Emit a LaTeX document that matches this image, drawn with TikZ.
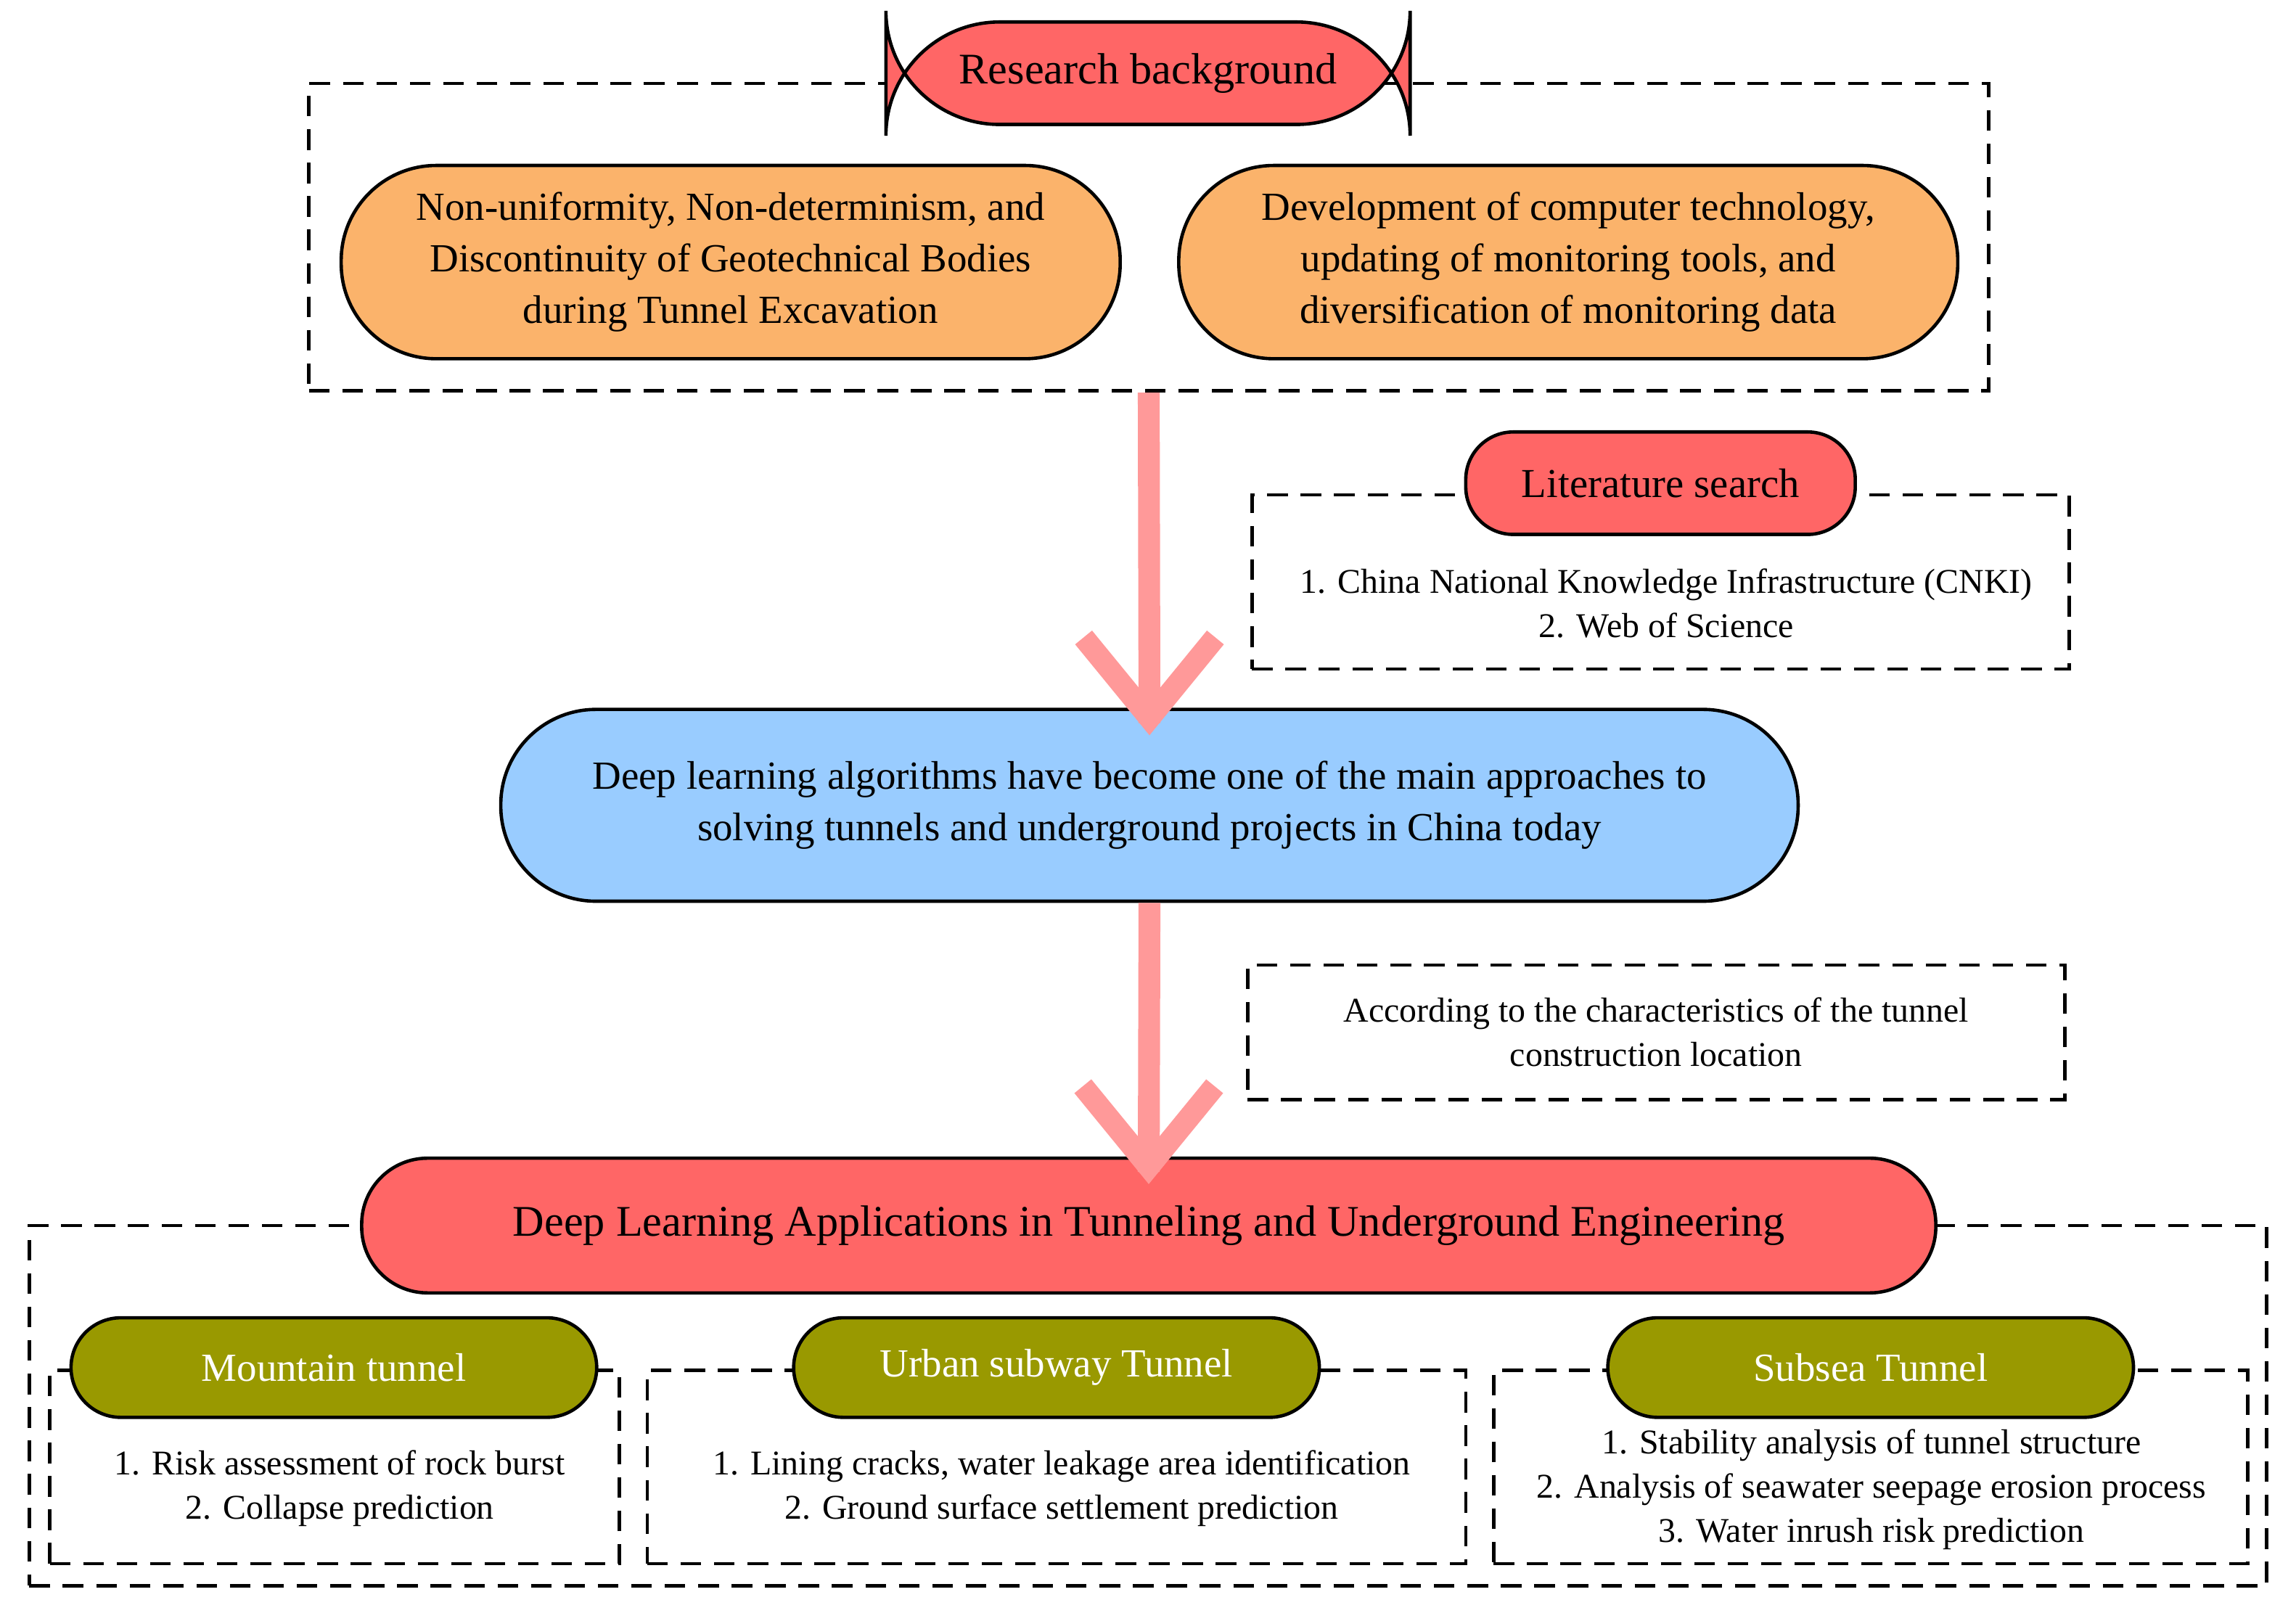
\documentclass[tikz,border=0pt]{standalone}
\usepackage{fontspec}
\setmainfont{Liberation Serif}
\begin{document}
\begin{tikzpicture}[x=0.02cm,y=-0.02cm,
 pill/.style={draw=black,line width=1.3pt,rounded corners=34\pgflinewidth,align=center,inner sep=0pt},
 dbox/.style={draw=black,line width=1.3pt,dash pattern=on 8pt off 5pt,inner sep=0pt},
 pk/.style={draw=pinkA,line width=8.5pt},
 t16/.style={font=\fontsize{15.5}{20}\selectfont,align=center},
 t14/.style={font=\fontsize{13.5}{17.2}\selectfont,align=center}]
\definecolor{redA}{HTML}{FF6666}
\definecolor{orA}{HTML}{FBB36B}
\definecolor{blA}{HTML}{99CCFF}
\definecolor{olA}{HTML}{999900}
\definecolor{pinkA}{HTML}{FF9999}
\useasboundingbox (0,0) rectangle (1568,1107);
% boxes
\node[dbox,minimum width=1147*0.02cm,minimum height=210*0.02cm] (box1) at (784.5,162) {};
\node[dbox,minimum width=558*0.02cm,minimum height=119*0.02cm] (box2) at (1134,397.5) {};
\node[dbox,minimum width=558*0.02cm,minimum height=92*0.02cm,t14] (box3) at (1131,705) {According to the characteristics of the tunnel\\construction location};
\node[dbox,minimum width=1528*0.02cm,minimum height=246*0.02cm] (box4) at (784,960) {};
\node[dbox,minimum width=389*0.02cm,minimum height=132*0.02cm] (b5) at (228.5,1002) {};
\node[dbox,minimum width=559*0.02cm,minimum height=132*0.02cm] (b6) at (721.5,1002) {};
\node[dbox,minimum width=515*0.02cm,minimum height=132*0.02cm] (b7) at (1277.5,1002) {};
% nodes
\node[pill,fill=redA,minimum width=358*0.02cm,minimum height=70*0.02cm,font=\fontsize{17}{20}\selectfont] (rb) at (784,50) {Research background};
\node[pill,fill=orA,minimum width=532*0.02cm,minimum height=132*0.02cm,t16,rounded corners=1.3cm] (o1) at (499,179) {Non-uniformity, Non-determinism, and\\Discontinuity of Geotechnical Bodies\\during Tunnel Excavation};
\node[pill,fill=orA,minimum width=532*0.02cm,minimum height=132*0.02cm,t16,rounded corners=1.3cm] (o2) at (1071,179) {Development of computer technology,\\updating of monitoring tools, and\\diversification of monitoring data};
\node[pill,fill=redA,minimum width=266*0.02cm,minimum height=70*0.02cm,font=\fontsize{16}{20}\selectfont,rounded corners=0.65cm] (ls) at (1134,330) {Literature search};
\node[t14] (lst) at (1138,412) {1. China National Knowledge Infrastructure (CNKI)\\2. Web of Science};
\node[pill,fill=blA,minimum width=886*0.02cm,minimum height=131*0.02cm,t16,rounded corners=1.3cm] (bl) at (785,550) {Deep learning algorithms have become one of the main approaches to\\solving tunnels and underground projects in China today};
\node[pill,fill=redA,minimum width=1075*0.02cm,minimum height=92*0.02cm,font=\fontsize{17}{20}\selectfont,rounded corners=0.9cm] (dl) at (784.5,837) {Deep Learning Applications in Tunneling and Underground Engineering};
\foreach \n/\x/\t in {m/228/Mountain tunnel,u/721.5/Urban subway Tunnel,s/1277.5/Subsea Tunnel}
 \node[pill,fill=olA,text=white,minimum width=359*0.02cm,minimum height=68*0.02cm,font=\fontsize{15.5}{20}\selectfont,rounded corners=0.68cm] (\n) at (\x,934) {\t};
\node[t14] (mt) at (232,1016.5) {1. Risk assessment of rock burst\\2. Collapse prediction};
\node[t14] (ut) at (725,1016.5) {1. Lining cracks, water leakage area identification\\2. Ground surface settlement prediction};
\node[t14] (st) at (1278,1017.5) {1. Stability analysis of tunnel structure\\2. Analysis of seawater seepage erosion process\\3. Water inrush risk prediction};
% arrows
\draw[pk] (box1.south) -- ([yshift=-6pt]bl.north);
\draw[pk,line join=miter] ([shift={(-45,-48)}]bl.north) -- ([yshift=-4pt]bl.north) -- ([shift={(45,-48)}]bl.north);
\draw[pk] (bl.south) -- ([yshift=-6pt]dl.north);
\draw[pk,line join=miter] ([shift={(-45,-48)}]dl.north) -- ([yshift=-4pt]dl.north) -- ([shift={(45,-48)}]dl.north);
\end{tikzpicture}
\end{document}
